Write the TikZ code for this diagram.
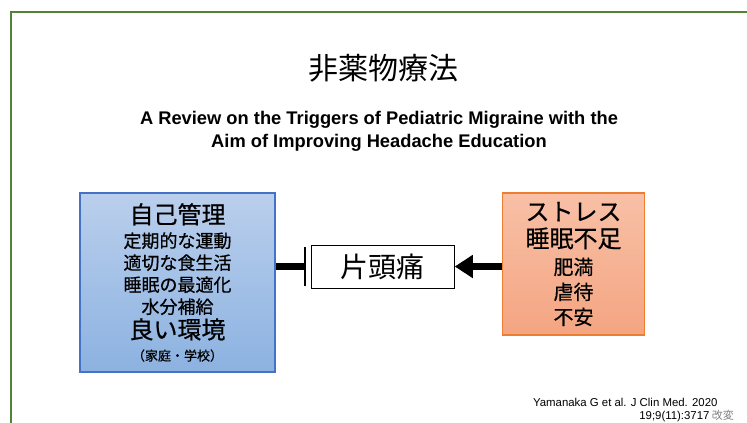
\documentclass[tikz,border=0pt]{standalone}
\usepackage{fontspec}
\setmainfont{Liberation Sans}
\newfontfamily\jp{Noto Sans CJK JP}
\newfontfamily\jpbox[FakeBold=0.6]{Noto Sans CJK JP}
\usepackage{tikz}
\usetikzlibrary{arrows.meta, positioning}
\definecolor{frameg}{RGB}{84,130,53}
\definecolor{boxblue}{RGB}{68,114,196}
\definecolor{bluetop}{RGB}{186,207,236}
\definecolor{bluebot}{RGB}{140,178,225}
\definecolor{boxorange}{RGB}{237,125,49}
\definecolor{orangetop}{RGB}{248,192,166}
\definecolor{orangebot}{RGB}{244,165,130}
\tikzstyle{care} = [rectangle, draw=boxblue, line width=1.5pt, top color=bluetop, bottom color=bluebot, minimum width=195pt, minimum height=179pt, align=center, inner sep=0pt, font=\jpbox\fontsize{18}{22}\selectfont]
\tikzstyle{trigger} = [rectangle, draw=boxorange, line width=1.5pt, top color=orangetop, bottom color=orangebot, minimum width=142pt, minimum height=142pt, align=center, inner sep=0pt, font=\jpbox\fontsize{20}{25}\selectfont]
\tikzstyle{disease} = [rectangle, draw=black, fill=white, line width=1pt, minimum width=143pt, minimum height=43pt, font=\jp\fontsize{28}{32}\selectfont]
\tikzstyle{block} = [line width=6.5pt, -{Bar[width=39pt, line width=2.2pt]}, shorten >=5pt]
\tikzstyle{arrow} = [line width=6.5pt, -{Triangle[length=18pt, width=22pt]}]

\begin{document}
\begin{tikzpicture}[x=1pt, y=-1pt]
	\useasboundingbox (0,0) rectangle (747,423);
	\draw[frameg, line width=2pt] (10.5,423) |- (747,11.5);

	\node (title) at (383,68) {\jp\fontsize{30}{36}\selectfont 非薬物療法};
	\node (paper) [align=center, font=\bfseries\fontsize{18.3}{23}\selectfont] at (379,131) {A Review on the Triggers of Pediatric Migraine with the\\Aim of Improving Headache Education};

	\node (self) [care] at (177.5,282.5) {{\fontsize{24}{28}\selectfont 自己管理}\\[2pt]
		定期的な運動\\
		適切な食生活\\
		睡眠の最適化\\
		水分補給\\[3pt]
		{\fontsize{24}{28}\selectfont 良い環境}\\
		{\fontsize{13}{16}\selectfont （家庭・学校）}};
	\node (mig) [disease, right=35pt of self, yshift=16pt] {片頭痛};
	\node (risk) [trigger, right=47pt of mig, yshift=2.5pt] {\raisebox{-2pt}{\fontsize{24}{28}\selectfont ストレス}\\[4pt]
		{\fontsize{24}{28}\selectfont 睡眠不足}\\[2pt]
		肥満\\
		虐待\\
		不安};

	\draw [block] (self.east |- mig) -- (mig.west);
	\draw [arrow] (risk.west |- mig) -- (mig.east);

	\node (cite) [align=right, anchor=north east, font=\fontsize{11.4}{12.5}\selectfont] at (721,395) {Yamanaka G et al. J Clin Med. 2020\\19;9(11):3717\rlap{\color{gray}\jp\fontsize{11}{12}\selectfont\ 改変}\hspace*{8pt}};
\end{tikzpicture}
\end{document}
